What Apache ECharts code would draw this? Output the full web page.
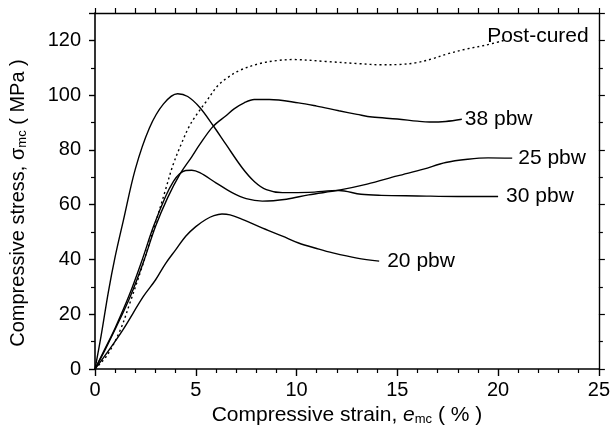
<!DOCTYPE html>
<html>
<head>
<meta charset="utf-8">
<script src="https://cdn.jsdelivr.net/npm/echarts@6/dist/echarts.min.js"></script>
<style>
  html, body { margin: 0; padding: 0; background: #fff; }
  #main { width: 613px; height: 443px; }
</style>
</head>
<body>
<div id="main"></div>
<script>
// 各曲线数据 [应变 %, 应力 MPa]
var pbw38 = [[0,0],[0.5,7],[1,14.5],[1.75,26.5],[2.4,39],[3.0,52],[3.6,62.5],[4.2,71],[4.8,77.5],[5.2,82],[5.85,88.5],[6.5,92.5],[6.9,95],[7.4,97.2],[7.9,98.4],[8.65,98.4],[10.1,97.2],[11,96],[12.1,94.3],[13,93],[13.75,92],[15,91.3],[16,90.5],[16.6,90.2],[17.4,90.4],[18.2,91.2]];
var pbw30 = [[0,0],[0.3,12],[0.66,28],[1.0,41],[1.4,54],[2.0,73],[2.7,88],[3.4,96.8],[4.1,100.5],[4.6,99.5],[5.2,95.5],[5.85,89],[6.5,82],[7.3,73.5],[7.9,68.5],[8.5,65.5],[9.3,64.4],[10.6,64.5],[12.1,65.2],[13.2,63.8],[14.2,63.4],[16,63.2],[18,63],[20,63]];
var pbw25 = [[0,0],[0.5,7.5],[1,15],[1.7,27],[2.3,39],[2.9,52],[3.5,63],[3.9,68.6],[4.2,71.3],[4.5,72.5],[4.8,72.6],[5.2,71.7],[6,68],[6.8,64.4],[7.5,62.2],[8.3,61.3],[9.5,62],[10.6,63.6],[12.1,65.3],[13.5,67.5],[15,70.5],[16.3,73],[17.4,75.4],[18.5,76.6],[19.5,77.1],[20.7,77]];
var pbw20 = [[0,0],[0.7,7],[1.4,14.5],[2.4,26.5],[3.0,32.5],[3.5,38.5],[4.0,43.5],[4.5,48.5],[5.0,52],[5.5,54.6],[5.9,56],[6.3,56.6],[6.7,56.3],[7.2,55],[8.2,51.8],[9.3,48.5],[10.1,46],[11,44],[11.8,42.4],[13,40.5],[14.1,39.4]];
var postCured = [[0,0],[0.6,5],[1.24,14],[1.75,24.5],[2.3,36.5],[2.72,46.5],[3.05,54.5],[3.5,65.5],[3.87,74.5],[4.3,82.5],[4.69,88.8],[5.1,93.5],[5.5,97.5],[6.1,103.5],[6.6,106.5],[7.16,109],[8.15,111.5],[9.0,112.6],[9.8,113],[11.45,112.3],[13.1,111.5],[14.2,111.1],[15.1,111.2],[15.9,111.8],[16.7,113.2],[17.5,115.1],[18.4,116.8],[19.35,118.2],[20.3,120]];

var FONT = 'Liberation Sans, Arial, Helvetica, sans-serif';

function makeSeries(name, data, dotted, offset) {
    return {
        name: name,
        type: 'line',
        xAxisIndex: 0,
        yAxisIndex: 0,
        data: data,
        smooth: 0.35,
        symbol: 'none',
        lineStyle: { color: '#000', width: 1.4, type: dotted ? [2, 3] : 'solid' },
        endLabel: { //曲线末端标签
            show: true,
            formatter: '{a}',
            color: '#000',
            fontFamily: FONT,
            fontSize: 21,
            distance: 3,
            offset: offset || [0, 0]
        }
    };
}

var myChart = echarts.init(document.getElementById('main'));
myChart.setOption({
    animation: false,
    grid: { left: 95, right: 12, top: 13, bottom: 74 },
    xAxis: [{
        type: 'value',
        position: 'bottom',
        min: 0, max: 25, interval: 5,
        name: 'Compressive strain, {i|e}{sub|mc} ( % )',
        nameLocation: 'middle',
        nameGap: 33,
        nameTextStyle: {
            color: '#000', fontFamily: FONT, fontSize: 21,
            rich: {
                i: { fontStyle: 'italic', fontSize: 21, fontFamily: FONT, color: '#000' },
                sub: { fontSize: 13, fontFamily: FONT, color: '#000', verticalAlign: 'bottom', padding: [8, 0, 0, 0] }
            }
        },
        axisLine: { lineStyle: { color: '#000', width: 1.6 } },
        axisTick: { inside: false, length: 7, lineStyle: { color: '#000', width: 1.4 } },
        minorTick: { show: true, splitNumber: 5, length: 4, lineStyle: { color: '#000', width: 1.2 } },
        axisLabel: { color: '#000', fontFamily: FONT, fontSize: 20, margin: 11 },
        splitLine: { show: false }
    }, {
        type: 'value',
        position: 'top',
        min: 0, max: 25, interval: 5,
        axisLine: { onZero: false, lineStyle: { color: '#000', width: 1.4 } },
        axisTick: { inside: false, length: 5, lineStyle: { color: '#000', width: 1.2 } },
        minorTick: { show: true, splitNumber: 5, length: 5, lineStyle: { color: '#000', width: 1.2 } },
        axisLabel: { show: false },
        splitLine: { show: false }
    }],
    yAxis: [{
        type: 'value',
        position: 'left',
        min: 0, max: 130, interval: 20,
        name: 'Compressive stress, σ{sub|mc} ( MPa )',
        nameLocation: 'middle',
        nameGap: 66,
        nameTextStyle: {
            color: '#000', fontFamily: FONT, fontSize: 20,
            padding: [0, 24, 0, 0],
            rich: {
                sub: { fontSize: 13, fontFamily: FONT, color: '#000', verticalAlign: 'bottom', padding: [8, 0, 0, 0] }
            }
        },
        axisLine: { lineStyle: { color: '#000', width: 1.6 } },
        axisTick: { inside: false, length: 6, lineStyle: { color: '#000', width: 1.4 } },
        minorTick: { show: true, splitNumber: 2, length: 4, lineStyle: { color: '#000', width: 1.2 } },
        axisLabel: { color: '#000', fontFamily: FONT, fontSize: 20, margin: 14, showMaxLabel: false },
        splitLine: { show: false }
    }, {
        type: 'value',
        position: 'right',
        min: 0, max: 130, interval: 20,
        axisLine: { show: true, onZero: false, lineStyle: { color: '#000', width: 1.4 } },
        axisTick: { show: true, inside: false, length: 6, lineStyle: { color: '#000', width: 1.2 } },
        minorTick: { show: true, splitNumber: 2, length: 4, lineStyle: { color: '#000', width: 1.2 } },
        axisLabel: { show: false },
        splitLine: { show: false }
    }],
    series: [
        makeSeries('Post-cured', postCured, true, [-20, -4]),
        makeSeries('38 pbw', pbw38, false),
        makeSeries('30 pbw', pbw30, false, [5, 0]),
        makeSeries('25 pbw', pbw25, false, [3, 0]),
        makeSeries('20 pbw', pbw20, false, [5, 0])
    ]
});
</script>
</body>
</html>
